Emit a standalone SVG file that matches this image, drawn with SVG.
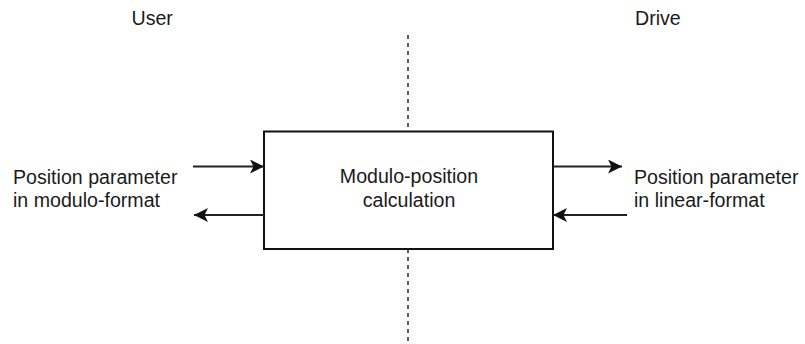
<svg xmlns="http://www.w3.org/2000/svg" width="805" height="344" viewBox="0 0 805 344">
<style>
text { font-family: "Liberation Sans", Arial, sans-serif; font-size: 19.6px; fill: #1a1a1a; }
.c { text-anchor: middle; }
.box { fill: #ffffff; stroke: #111; stroke-width: 2; }
.arr { fill: none; stroke: #222; stroke-width: 2; marker-end: url(#ah); }
.div { stroke: #333; stroke-width: 1.6; stroke-dasharray: 4 4; fill: none; }
</style>
<defs>
<marker id="ah" viewBox="0 0 14 14" refX="14" refY="7" markerWidth="14" markerHeight="14" markerUnits="userSpaceOnUse" orient="auto">
<path d="M0,0 L14,7 L0,14 L3.5,7 Z" fill="#111"/>
</marker>
</defs>
<g id="headers">
<text x="131.5" y="25">User</text>
<text x="635" y="25">Drive</text>
</g>
<g id="divider">
<line class="div" x1="408" y1="35" x2="408" y2="131"/>
<line class="div" x1="408" y1="249" x2="408" y2="341"/>
</g>
<g id="calc">
<rect class="box" x="264" y="131.5" width="289" height="117.5"/>
<text class="c" x="409" y="183">Modulo-position</text>
<text class="c" x="409" y="206.5">calculation</text>
</g>
<g id="user-label">
<text x="13" y="184">Position parameter</text>
<text x="13" y="207">in modulo-format</text>
</g>
<g id="drive-label">
<text x="634" y="184">Position parameter</text>
<text x="634" y="207">in linear-format</text>
</g>
<g id="connectors">
<line class="arr" x1="193" y1="166.5" x2="264" y2="166.5"/>
<line class="arr" x1="264" y1="215" x2="194" y2="215"/>
<line class="arr" x1="553" y1="166.5" x2="622" y2="166.5"/>
<line class="arr" x1="627" y1="215" x2="553" y2="215"/>
</g>
</svg>
